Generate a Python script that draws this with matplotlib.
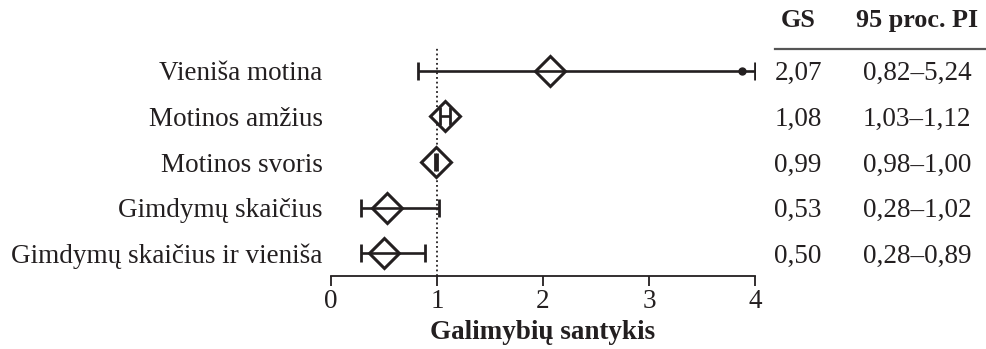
import matplotlib
matplotlib.use("Agg")
import matplotlib.pyplot as plt

categories = ["Vieniša motina", "Motinos amžius", "Motinos svoris",
              "Gimdymų skaičius", "Gimdymų skaičius ir vieniša"]
gs = [2.07, 1.08, 0.99, 0.53, 0.50]
ci_low = [0.82, 1.03, 0.98, 0.28, 0.28]
ci_high = [5.24, 1.12, 1.00, 1.02, 0.89]
gs_text = ["2,07", "1,08", "0,99", "0,53", "0,50"]
ci_text = ["0,82–5,24", "1,03–1,12", "0,98–1,00", "0,28–1,02", "0,28–0,89"]
xticks = [0, 1, 2, 3, 4]
header = ["GS", "95 proc. PI"]
xlabel = "Galimybių santykis"

plt.rcParams['font.family'] = ['Liberation Serif', 'DejaVu Serif']
C = '#231f20'
FS = 19.5
W, H = 986, 349
fig = plt.figure(figsize=(W / 100, H / 100), dpi=100)
ax = fig.add_axes([331 / W, 73 / H, (755 - 331) / W, 228 / H])

n = len(categories)
ys = list(range(n, 0, -1))
xmin, xmax = xticks[0], xticks[-1]

ax.axvline(1, color=C, lw=1.3, ls=(0, (1, 1.6)), zorder=1)

for y, g, lo, hi in zip(ys, gs, ci_low, ci_high):
    ax.plot([g], [y], marker='D', ms=15.5, mfc='white', mec=C, mew=2.2, zorder=2)
    hi_p = min(hi, xmax)
    ax.plot([lo, hi_p], [y, y], color=C, lw=1.9, zorder=3, solid_capstyle='butt')
    ax.plot([lo, hi_p], [y, y], ls='none', marker='|', ms=12.5, mew=2.0, color=C, zorder=3)
    if hi > xmax:
        ax.plot([xmax - 0.12], [y], marker='o', ms=5, color=C, zorder=3)

ax.set_xlim(xmin, xmax)
ax.set_ylim(0.5, n + 0.5)
ax.set_xticks(xticks)
ax.set_xticklabels([str(t) for t in xticks], fontsize=FS)
ax.set_yticks(ys)
ax.set_yticklabels(categories, fontsize=FS)
ax.tick_params(axis='y', length=0, pad=6)
ax.tick_params(axis='x', length=7, width=1.3, color=C, labelcolor=C, pad=2)
for s in ['top', 'right', 'left']:
    ax.spines[s].set_visible(False)
ax.spines['bottom'].set_linewidth(1.3)
ax.spines['bottom'].set_color(C)
for lab in ax.get_yticklabels():
    lab.set_color(C)
    lab.set_verticalalignment('center_baseline')
ax.set_xlabel(xlabel, fontsize=FS, fontweight='bold', color=C, labelpad=4.5)
ax.patch.set_alpha(0)

# table on the right
x_gs = 798 / W
x_ci = 917 / W
def fy(py):
    return 1 - py / H
fig.text(x_gs, fy(18), header[0], ha='center', va='center_baseline', fontsize=18.8, fontweight='bold', color=C)
fig.text(x_ci, fy(18), header[1], ha='center', va='center_baseline', fontsize=18.8, fontweight='bold', color=C)
fig.add_artist(plt.Line2D([775 / W, 1.0], [fy(49), fy(49)], color='#555555', lw=1.6,
                          transform=fig.transFigure))
for y, a, b in zip(ys, gs_text, ci_text):
    ax.annotate(a, xy=(x_gs, y), xycoords=('figure fraction', 'data'), ha='center', va='center_baseline',
                fontsize=FS, color=C, annotation_clip=False)
    ax.annotate(b, xy=(x_ci, y), xycoords=('figure fraction', 'data'), ha='center', va='center_baseline',
                fontsize=FS, color=C, annotation_clip=False)

fig.savefig('out.png', dpi=100)
